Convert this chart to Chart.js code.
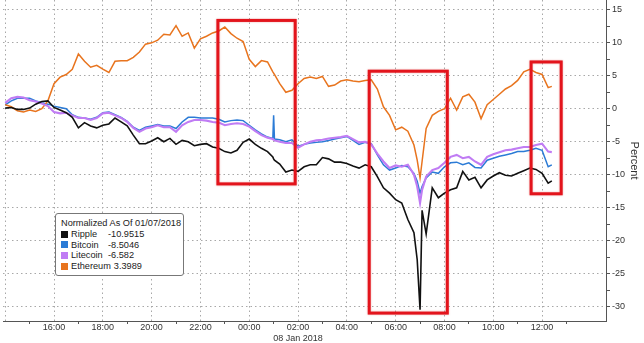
<!DOCTYPE html>
<html>
<head>
<meta charset="utf-8">
<script src="https://cdn.jsdelivr.net/npm/chart.js@4.4.1/dist/chart.umd.min.js"></script>
<style>
  body { margin: 0; background: #fff; }
  #wrap { position: relative; width: 644px; height: 343px; }
  #legend {
    position: absolute; left: 55px; top: 213px; width: 129px; height: 63px;
    border: 1px solid #777; border-radius: 3px; background: #fff;
    font: 9.2px Arial, "Liberation Sans", sans-serif; color: #222;
    padding: 4px 0 0 5px; box-sizing: border-box; line-height: 10.8px;
  }
  #legend .row { display: flex; align-items: center; white-space: nowrap; }
  #legend .sw { width: 7px; height: 7px; margin-right: 3px; }
  #legend .nm { min-width: 34px; padding-right: 3px; }
</style>
</head>
<body>
<div id="wrap">
  <canvas id="chart"></canvas>
  <div id="legend"></div>
</div>
<script>
// samples, 07 Jan 14:00 -> 08 Jan 12:24 (extra samples around the spikes)
const times = [
  '14:00','14:15','14:30','14:45', '15:00','15:15','15:30','15:45',
  '16:00','16:15','16:30','16:45', '17:00','17:15','17:30','17:45',
  '18:00','18:15','18:30','18:45', '19:00','19:15','19:30','19:45',
  '20:00','20:15','20:30','20:45', '21:00','21:15','21:30','21:45',
  '22:00','22:15','22:30','22:45', '23:00','23:15','23:30','23:45',
  '00:00','00:15','00:30','00:45','00:58',
  '01:00','01:02','01:15','01:30','01:45',
  '02:00','02:15','02:30','02:45', '03:00','03:15','03:30','03:45',
  '04:00','04:15','04:30','04:45', '05:00','05:15','05:30','05:45',
  '06:00','06:15','06:30','06:45','06:53',
  '07:00','07:05','07:15','07:30','07:45',
  '08:00','08:15','08:30','08:45', '09:00','09:15','09:30','09:45',
  '10:00','10:15','10:30','10:45', '11:00','11:15','11:30','11:45',
  '12:00','12:15','12:24'
];

const ripple = [
  0.1, 0.2, -0.1, -0.1,   0.1, 0.7, 1.1, 1.2,
  0.2, -0.2, -0.6, -1.3,  -2.9, -2.1, -2.6, -2.9,
  -2.5, -2.3, -1.4, -2.0, -2.6, -4.0, -5.3, -5.3,
  -4.9, -4.4, -5.0, -4.5, -5.4, -4.8, -5.0, -5.6,
  -5.4, -5.3, -5.8, -6.0, -6.5, -6.7, -6.3, -5.1,
  -4.6, -5.4, -6.0, -6.5, -7.3,
  -7.6, -7.8, -8.4, -9.6, -9.3,
  -9.5, -8.8, -8.5, -8.5, -7.4, -7.6, -8.1, -8.1,
  -8.3, -8.7, -9.0, -8.5, -8.8, -10.3, -12.0, -12.8,
  -13.8, -14.3, -16.8, -18.8, -22.9,
  -30.5, -15.4, -19.0, -12.0, -13.5,
  -12.8, -12.3, -12.0, -9.5, -10.8, -10.4, -12.0, -10.8,
  -10.2, -9.7, -10.1, -10.2, -9.8, -9.4, -9.0, -9.2,
  -9.8, -11.3, -10.9515
];

const bitcoin = [
  0.6, 1.2, 1.6, 1.6,     1.6, 1.2, 0.9, 0.7,
  0.4, 0.2, 0.0, -0.9,    -1.3, -1.4, -1.6, -1.3,
  -0.6, -0.5, -0.9, -1.3, -1.9, -2.8, -3.3, -2.8,
  -2.6, -2.4, -2.6, -2.6, -3.0, -2.0, -1.3, -1.3,
  -1.4, -1.4, -1.4, -1.6, -2.0, -1.8, -1.7, -1.8,
  -2.5, -3.2, -3.8, -4.3, -4.5,
  -1.0, -4.6, -4.7, -5.0, -4.7,
  -5.7, -5.4, -5.2, -5.1, -5.0, -4.8, -4.6, -4.4,
  -4.2, -4.8, -5.4, -5.1, -5.3, -7.0, -8.5, -9.3,
  -9.0, -8.6, -8.8, -9.8, -11.0,
  -12.8, -11.8, -10.5, -9.6, -9.8,
  -8.8, -8.2, -8.1, -8.5, -8.2, -8.9, -9.0, -7.8,
  -7.5, -7.2, -7.0, -6.8, -6.5, -6.5, -6.3, -6.0,
  -6.3, -8.8, -8.5046
];

const litecoin = [
  0.9, 1.6, 1.8, 1.7,     1.3, 1.1, 0.8, 0.4,
  -0.5, -0.7, -0.6, -1.0, -1.4, -1.4, -1.7, -1.4,
  -0.7, -0.6, -1.0, -1.4, -2.0, -2.9, -3.5, -3.0,
  -2.8, -2.5, -2.8, -2.8, -3.5, -2.5, -2.0, -1.7,
  -1.7, -1.8, -2.0, -2.1, -2.5, -2.3, -2.2, -2.3,
  -2.7, -3.4, -4.0, -4.4, -4.6,
  -4.7, -4.8, -5.0, -5.2, -5.2,
  -5.9, -5.4, -5.0, -4.8, -4.7, -4.5, -4.4, -4.3,
  -4.1, -4.6, -5.1, -5.0, -5.4, -6.8, -8.0, -9.0,
  -8.6, -8.8, -8.5, -10.0, -11.8,
  -14.3, -12.3, -10.3, -9.3, -9.0,
  -8.2, -7.3, -7.0, -7.5, -7.3, -8.0, -8.5, -7.3,
  -6.9, -6.6, -6.3, -6.2, -6.0, -5.8, -5.8, -5.5,
  -5.3, -6.5, -6.582
];

const ethereum = [
  0.6, 0.3, -0.3, -0.5,   -0.2, -0.4, 0.0, 1.2,
  3.8, 4.8, 5.2, 6.0,     8.3, 7.2, 6.3, 6.6,
  6.0, 5.5, 7.2, 7.3,     7.3, 7.8, 8.6, 9.8,
  10.0, 10.4, 11.3, 11.2, 12.6, 11.0, 11.5, 9.2,
  10.6, 11.0, 11.5, 11.8, 12.4, 11.4, 10.7, 10.2,
  7.5, 6.4, 7.3, 7.1, 5.6,
  5.4, 5.2, 3.8, 2.5, 2.8,
  3.8, 4.6, 4.8, 4.6,     4.9, 3.4, 3.6, 4.2,
  4.4, 4.2, 4.1, 4.3,     4.4, 3.0, 0.3, -1.0,
  -3.2, -2.8, -3.4, -5.5, -7.8,
  -10.5, -8.0, -3.0, -1.0, -0.4,
  0.0, 1.6, -0.2, 1.8,    2.2, 1.0, -1.5, 0.6,
  1.4, 2.2, 3.0, 3.5,     4.3, 5.6, 6.0, 5.5,
  5.2, 3.2, 3.3989
];

const seriesNames = ['Ripple', 'Bitcoin', 'Litecoin', 'Ethereum'];
const seriesColors = ['#111111', '#2b7bd6', '#c07cf4', '#e8741e'];
const lastValues = ['-10.9515', '-8.5046', '-6.582', '3.3989'];
const legendTitle = 'Normalized As Of 01/07/2018';
const dateLabel = '08 Jan 2018';

// red highlight boxes, in time / percent units
const highlightBoxes = [
  { from: '22:43', to: '01:53', top: 13.4, bottom: -11.4 },
  { from: '04:55', to: '08:07', top: 5.7, bottom: -31.0 },
  { from: '11:33', to: '12:47', top: 7.1, bottom: -12.9 }
];

function toHours(t) {
  const [h, m] = t.split(':').map(Number);
  const v = h + m / 60;
  return v < 13 ? v + 24 : v;
}

function pairs(values) {
  return times.map((t, i) => ({ x: toHours(t), y: values[i] }));
}

const allSeries = [ripple, bitcoin, litecoin, ethereum];
const drawOrder = [1, 4, 2, 3];
const widths = [1.6, 1.5, 2.1, 1.5];

const boxPlugin = {
  id: 'boxes',
  afterDatasetsDraw(chart) {
    const { ctx, scales: { x, y } } = chart;
    ctx.save();
    ctx.strokeStyle = '#e3141c';
    ctx.lineWidth = 3;
    ctx.shadowColor = 'rgba(200,0,0,0.35)';
    ctx.shadowBlur = 2;
    highlightBoxes.forEach(b => {
      const x1 = x.getPixelForValue(toHours(b.from));
      const x2 = x.getPixelForValue(toHours(b.to));
      const y1 = y.getPixelForValue(b.top);
      const y2 = y.getPixelForValue(b.bottom);
      ctx.strokeRect(x1, y1, x2 - x1, y2 - y1);
    });
    ctx.restore();
  }
};

function noPadding(scale) {
  scale.paddingTop = 0;
  scale.paddingBottom = 0;
  scale.paddingLeft = 0;
  scale.paddingRight = 0;
}

Chart.defaults.font.family = 'Arial, "Liberation Sans", sans-serif';
Chart.defaults.color = '#333';

const ctx = document.getElementById('chart').getContext('2d');
new Chart(ctx, {
  type: 'line',
  data: {
    datasets: allSeries.map((s, i) => ({
      label: seriesNames[i],
      data: pairs(s),
      borderColor: seriesColors[i],
      borderWidth: widths[i],
      pointRadius: 0,
      tension: 0,
      order: drawOrder[i]
    }))
  },
  options: {
    responsive: true,
    maintainAspectRatio: false,
    animation: false,
    layout: { padding: { left: 3, top: 0, right: 0, bottom: 0 } },
    plugins: { legend: { display: false }, tooltip: { enabled: false } },
    scales: {
      x: {
        type: 'linear',
        min: 13.91,
        max: 38.62,
        afterFit(scale) { scale.height = 22; noPadding(scale); },
        border: { display: true, color: '#555', width: 1, dash: [1.5, 3] },
        grid: {
          color: c => (Number.isInteger(c.tick.value) && c.tick.value % 2 === 0 && c.tick.value <= 36) ? '#a8a8a8' : 'rgba(0,0,0,0)',
          tickColor: c => (Number.isInteger(c.tick.value) && c.tick.value % 2 === 1) ? '#555' : 'rgba(0,0,0,0)',
          tickLength: 3
        },
        ticks: {
          stepSize: 1,
          includeBounds: false,
          autoSkip: false,
          maxRotation: 0,
          padding: -2,
          font: { size: 9, lineHeight: 1.25 },
          color: '#333',
          callback: v => {
            if (!Number.isInteger(v) || v % 2 !== 0 || v < 16 || v > 36) return '';
            const lbl = String(v % 24).padStart(2, '0') + ':00';
            return v === 26 ? [lbl, dateLabel] : lbl;
          }
        }
      },
      y: {
        position: 'right',
        min: -32.2,
        max: 16.5,
        afterFit(scale) { scale.width = 38; noPadding(scale); },
        border: { display: true, color: '#555', width: 1, dash: [1.5, 3] },
        grid: {
          color: c => (c.tick.value % 5 === 0) ? '#a8a8a8' : 'rgba(0,0,0,0)',
          tickColor: '#555',
          tickLength: 4
        },
        ticks: {
          stepSize: 2.5,
          includeBounds: false,
          autoSkip: false,
          padding: 2,
          font: { size: 9 },
          color: '#333',
          callback: v => (v % 5 === 0 ? String(v) : '')
        },
        title: {
          display: true,
          text: 'Percent',
          font: { size: 11 },
          color: '#333',
          padding: { top: 3, bottom: 0 }
        }
      }
    }
  },
  plugins: [boxPlugin]
});

// legend box built from the series arrays
const legend = document.getElementById('legend');
let html = '<div>' + legendTitle + '</div>';
seriesNames.forEach((n, i) => {
  html += '<div class="row"><span class="sw" style="background:' + seriesColors[i] + '"></span>' +
          '<span class="nm">' + n + '</span><span>' + lastValues[i] + '</span></div>';
});
legend.innerHTML = html;
</script>
</body>
</html>
